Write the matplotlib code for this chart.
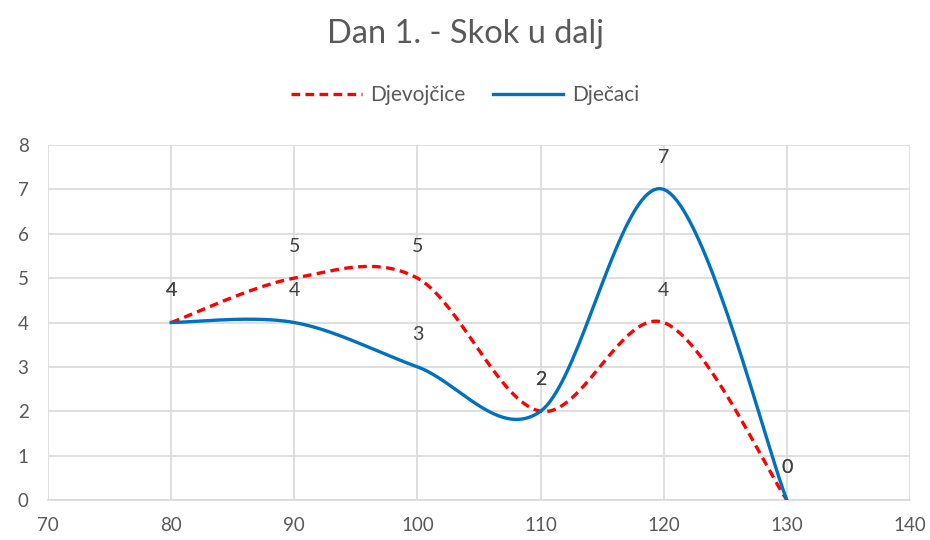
import numpy as np
import matplotlib.pyplot as plt

plt.rcParams['font.family'] = ['Lato', 'DejaVu Sans']

visina = [80, 90, 100, 110, 120, 130]
djevojcice = [4, 5, 5, 2, 4, 0]
djecaci = [4, 4, 3, 2, 7, 0]


def smooth(xs, ys, n=40):
    # Excel-like smoothing: cubic Bezier with Catmull-Rom control points
    p = np.column_stack([xs, ys]).astype(float)
    pts = []
    for i in range(len(p) - 1):
        p0 = p[i - 1] if i > 0 else p[i]
        p3 = p[i + 2] if i + 2 < len(p) else p[i + 1]
        c1 = p[i] + (p[i + 1] - p0) / 6
        c2 = p[i + 1] - (p3 - p[i]) / 6
        t = np.linspace(0, 1, n)[:, None]
        seg = ((1 - t) ** 3 * p[i] + 3 * (1 - t) ** 2 * t * c1
               + 3 * (1 - t) * t ** 2 * c2 + t ** 3 * p[i + 1])
        pts.append(seg if i == 0 else seg[1:])
    pts = np.vstack(pts)
    return pts[:, 0], pts[:, 1]


fig = plt.figure(figsize=(9.3, 5.4), dpi=100)
ax = fig.add_axes([48 / 930, 40 / 540, 862 / 930, 355 / 540])

gx, gy = smooth(visina, djevojcice)
bx, by = smooth(visina, djecaci)
ax.plot(gx, gy, color='#ff0000', lw=2.4, ls=(0, (2.6, 1.6)), label='Djevojčice', zorder=3)
ax.plot(bx, by, color='#0070c0', lw=2.4, label='Dječaci', zorder=4)

for x, y in zip(visina, djevojcice):
    ax.annotate(str(y), (x, y), xytext=(0, 17), textcoords='offset points',
                ha='center', va='bottom', fontsize=14, color='#404040')
for x, y in zip(visina, djecaci):
    ax.annotate(str(y), (x, y), xytext=(0, 17), textcoords='offset points',
                ha='center', va='bottom', fontsize=14, color='#404040')

ax.set_xlim(70, 140)
ax.set_ylim(0, 8)
ax.set_xticks(range(70, 141, 10))
ax.set_yticks(range(0, 9))
ax.grid(True, color='#d9d9d9', lw=1.2)
ax.set_axisbelow(True)
for s in ['top', 'right', 'left']:
    ax.spines[s].set_visible(False)
ax.spines['bottom'].set_color('#d9d9d9')
ax.spines['bottom'].set_linewidth(1.2)
ax.tick_params(length=0, labelsize=13.5, colors='#595959', pad=12)
ax.tick_params(axis='y', pad=14)

fig.text(0.5, 1 - 34 / 540, 'Dan 1. - Skok u dalj', ha='center', va='center',
         fontsize=23.5, color='#595959')
fig.legend(loc='center', bbox_to_anchor=(0.5, 1 - 95 / 540), ncol=2, frameon=False,
           fontsize=15, labelcolor='#595959', handlelength=3.4, columnspacing=1.3,
           handletextpad=0.4)

fig.savefig('out.png', dpi=100)
